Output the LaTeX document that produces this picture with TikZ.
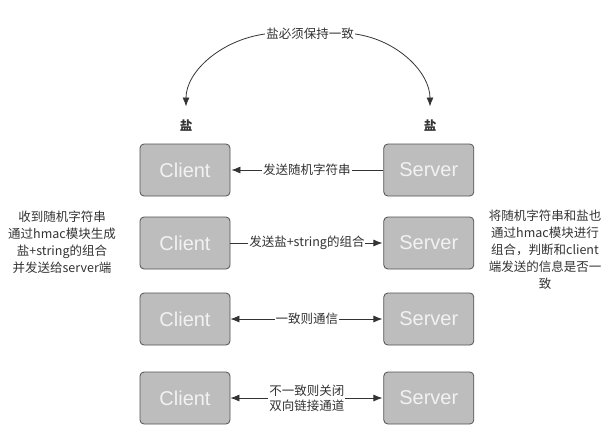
\documentclass[tikz,border=0pt]{standalone}
\usepackage{fontspec}
\setmainfont{Noto Sans CJK SC}
\newfontfamily\boxfont{Liberation Sans}
\usetikzlibrary{shapes,arrows.meta,positioning}
\definecolor{boxgray}{HTML}{BDBDBD}
\definecolor{ink}{HTML}{333333}
\tikzstyle{box} = [draw=ink!85, fill=boxgray, rounded corners=4pt, minimum width=90pt, minimum height=52pt, text=white!95!black, font=\boxfont\fontsize{20}{22}\selectfont]
\tikzstyle{lbl} = [fill=white, inner sep=1pt, text=ink, font=\fontsize{12.5}{15}\selectfont, align=center]
\tikzstyle{note} = [text=ink, align=center, font=\fontsize{12.5}{17}\selectfont, anchor=north]
\tikzstyle{salt} = [text=ink, font=\fontsize{12.5}{15}\selectfont\bfseries]

\begin{document}
\begin{tikzpicture}[x=1pt,y=-1pt,->,>={Latex[length=9pt,width=7pt]},line width=0.8pt,draw=ink,shorten >=1pt]

  \useasboundingbox (0,0) rectangle (615,442);

  \node[box] (C1) at (185,170) {Client};
  \node[box] (S1) [right=153pt of C1] {Server};
  \node[box] (C2) at (185,243) {Client};
  \node[box] (S2) [right=153pt of C2] {Server};
  \node[box] (C3) at (185,319) {Client};
  \node[box] (S3) [right=153pt of C3] {Server};
  \node[box] (C4) at (185,398) {Client};
  \node[box] (S4) [right=153pt of C4] {Server};

  \node[lbl] (K) at (310,34) {盐必须保持一致};
  \node[salt] (YC) at (186,126) {盐};
  \node[salt] (YS) at (430,126) {盐};

  \node[note] (NC) at (62,207) {收到随机字符串\\通过hmac模块生成\\盐+string的组合\\并发送给server端};
  \node[note] (NS) at (545,206) {将随机字符串和盐也\\通过hmac模块进行\\组合，判断和client\\端发送的信息是否一\\致};

  \path
    (K.west) edge [out=188, in=90, shorten >=10pt] (YC)
    (K.east) edge [out=-8, in=90, shorten >=10pt] (YS)
    (S1) edge node[lbl] {发送随机字符串} (C1)
    (C2) edge node[lbl] {发送盐+string的组合} (S2)
    (C3) edge [<->] node[lbl] {一致则通信} (S3)
    (C4) edge [<->] node[lbl] {不一致则关闭\\双向链接通道} (S4);

\end{tikzpicture}
\end{document}
